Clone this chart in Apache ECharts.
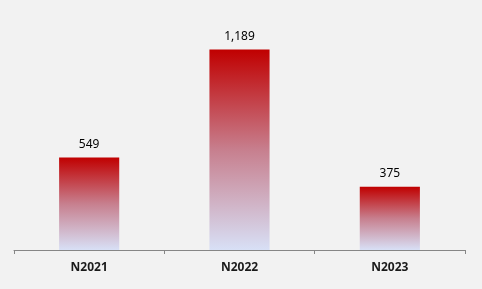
<!DOCTYPE html>
<html><head><meta charset="utf-8">
<script src="https://cdn.jsdelivr.net/npm/echarts@6/dist/echarts.min.js"></script>
<style>html,body{margin:0;padding:0;background:#f2f2f2}#c{width:482px;height:289px}</style>
</head><body><div id="c"></div>
<script>
const categories = ['N2021', 'N2022', 'N2023'];
const values = [549, 1189, 375];
const labelTexts = ['549', '1,189', '375'];

const chart = echarts.init(document.getElementById('c'));
chart.setOption({
  backgroundColor: '#f2f2f2',
  animation: false,
  grid: { left: 14, right: 17, top: 14, bottom: 39 },
  xAxis: {
    type: 'category',
    data: categories,
    axisLine: { lineStyle: { color: '#868686', width: 1 } },
    axisTick: { show: true, length: 4, lineStyle: { color: '#868686' } },
    axisLabel: { color: '#1a1a1a', fontWeight: 'bold', fontSize: 12, fontFamily: 'Noto Sans', margin: 12 }
  },
  yAxis: { type: 'value', min: 0, max: 1400, show: false, splitLine: { show: false } },
  series: [{
    type: 'bar',
    data: values,
    barWidth: '40%',
    itemStyle: {
      color: new echarts.graphic.LinearGradient(0, 0, 0, 1, [
        { offset: 0, color: '#c00000' },
        { offset: 0.5, color: '#c77f8e' },
        { offset: 1, color: '#d8e0f6' }
      ])
    },
    label: {
      show: true, position: 'top', distance: 7,
      color: '#000', fontSize: 12, fontFamily: 'Noto Sans',
      formatter: p => labelTexts[p.dataIndex]
    }
  }]
});
</script></body></html>
